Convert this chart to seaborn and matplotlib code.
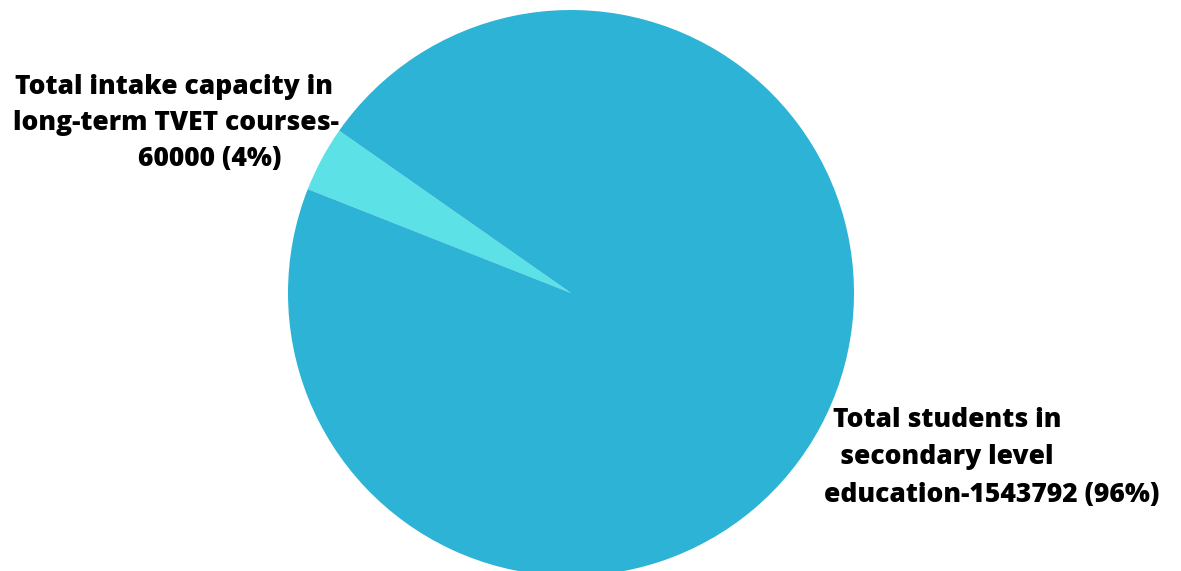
import matplotlib
matplotlib.use("Agg")
import matplotlib.pyplot as plt
import seaborn as sns

sns.set_theme(style="white")
plt.rcParams['font.family'] = ['Open Sans', 'DejaVu Sans']

categories = ["Total intake capacity in\nlong-term TVET courses-\n60000 (4%)",
              "Total students in\nsecondary level\neducation-1543792 (96%)"]
values = [60000, 1543792]
colors = ["#5CE1E6", "#2DB3D5"]

W, H = 1181, 571
fig = plt.figure(figsize=(W / 100, H / 100), dpi=100)
cx, cy, r = 571, 293, 283
ax = fig.add_axes([(cx - r) / W, (H - cy - r) / H, 2 * r / W, 2 * r / H])
ax.pie(values, colors=colors, startangle=145, counterclock=True,
       wedgeprops=dict(linewidth=0), radius=1)
ax.set_xlim(-1, 1)
ax.set_ylim(-1, 1)
ax.set_aspect('equal')
ax.axis('off')

# label line placements (pixel centers)
placements = [
    [(174, 87), (176, 123), (210, 159)],
    [(947, 420), (947, 457), (992, 495)],
]
for label, pos in zip(categories, placements):
    for line, (x, y) in zip(label.split("\n"), pos):
        fig.text(x / W, 1 - y / H, line, ha='center', va='center',
                 fontsize=19, fontweight='heavy', color='black')

fig.savefig("out.png", dpi=100)
